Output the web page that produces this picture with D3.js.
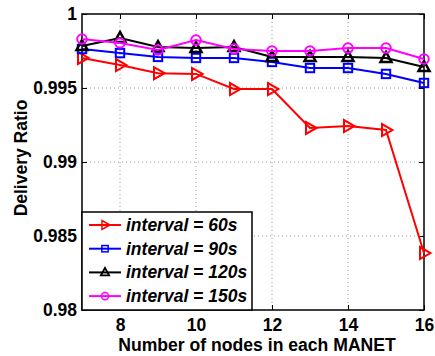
<!DOCTYPE html>
<html>
<head>
<meta charset="utf-8">
<script src="https://cdn.jsdelivr.net/npm/d3@7"></script>
<style>
  body { margin: 0; background: #fff; }
  svg { display: block; font-family: "Liberation Sans", Arial, sans-serif; }
</style>
</head>
<body>
<svg id="chart" width="435" height="356"></svg>
<script>
var nodes = [7, 8, 9, 10, 11, 12, 13, 14, 15, 16];
var int60 = [0.99703, 0.99655, 0.9960, 0.99595, 0.99493, 0.99493, 0.9923, 0.99243, 0.99216, 0.98385];
var int90 = [0.99763, 0.99736, 0.9971, 0.99703, 0.99703, 0.99676, 0.99635, 0.99635, 0.99595, 0.99534];
var int120 = [0.99784, 0.99838, 0.99777, 0.9977, 0.99777, 0.9971, 0.9971, 0.9971, 0.99703, 0.99642];
var int150 = [0.99831, 0.99804, 0.99757, 0.99824, 0.99764, 0.9975, 0.9975, 0.9977, 0.9977, 0.99696];
var xTicks = [8, 10, 12, 14, 16];
var yTicks = [0.98, 0.985, 0.99, 0.995, 1];

var series = [
    {name: 'interval = 60s', values: int60, color: '#ff0000', marker: 'tri-right'},
    {name: 'interval = 90s', values: int90, color: '#0000ff', marker: 'square'},
    {name: 'interval = 120s', values: int120, color: '#000000', marker: 'tri-up'},
    {name: 'interval = 150s', values: int150, color: '#ff00ff', marker: 'circle'}
];

var svg = d3.select('#chart');
var m = {left: 82, top: 14, right: 424, bottom: 310};

var x = d3.scaleLinear().domain([7, 16]).range([m.left, m.right]);
var y = d3.scaleLinear().domain([0.98, 1]).range([m.bottom, m.top]);

// grid
var grid = svg.append('g').attr('stroke', '#999').attr('stroke-width', 1).attr('stroke-dasharray', '1,3');
xTicks.forEach(function(t) {
    if (t === 16) return;
    grid.append('line').attr('x1', x(t)).attr('x2', x(t)).attr('y1', m.top).attr('y2', m.bottom);
});
yTicks.forEach(function(t) {
    if (t === 0.98 || t === 1) return;
    grid.append('line').attr('x1', m.left).attr('x2', m.right).attr('y1', y(t)).attr('y2', y(t));
});

// axes
svg.append('g').attr('transform', 'translate(0,' + m.bottom + ')')
    .call(d3.axisBottom(x).tickValues(xTicks).tickSize(-5).tickPadding(9).tickFormat(d3.format('d')));
svg.append('g').attr('transform', 'translate(' + m.left + ',0)')
    .call(d3.axisLeft(y).tickValues(yTicks).tickSize(-5).tickPadding(5).tickFormat(function(d) { return d === 1 ? '1' : String(+d.toFixed(3)); }));
svg.append('g').attr('transform', 'translate(0,' + m.top + ')')
    .call(d3.axisTop(x).tickValues(xTicks).tickSize(-5).tickFormat(''));
svg.append('g').attr('transform', 'translate(' + m.right + ',0)')
    .call(d3.axisRight(y).tickValues(yTicks).tickSize(-5).tickFormat(''));

svg.selectAll('.domain').remove();
svg.selectAll('.tick line').attr('stroke', '#000');
svg.selectAll('.tick text').attr('font-size', 17.5).attr('font-weight', 'bold').attr('fill', '#000')
    .attr('font-family', '"Liberation Sans", Arial, sans-serif');

svg.append('rect').attr('x', m.left).attr('y', m.top)
    .attr('width', m.right - m.left).attr('height', m.bottom - m.top)
    .attr('fill', 'none').attr('stroke', '#000').attr('stroke-width', 1.5);

// labels
svg.append('text').attr('x', 257).attr('y', 351).attr('text-anchor', 'middle')
    .attr('font-size', 17.6).attr('font-weight', 'bold').text('Number of nodes in each MANET');
svg.append('text').attr('transform', 'translate(27,158) rotate(-90)').attr('text-anchor', 'middle')
    .attr('font-size', 17.5).attr('font-weight', 'bold').text('Delivery Ratio');

function drawMarker(g, type, cx, cy, color) {
    if (type === 'circle') {
        g.append('circle').attr('cx', cx).attr('cy', cy).attr('r', 4.8)
            .attr('fill', 'none').attr('stroke', color).attr('stroke-width', 2);
    } else if (type === 'square') {
        g.append('rect').attr('x', cx - 4.2).attr('y', cy - 4.2).attr('width', 8.4).attr('height', 8.4)
            .attr('fill', 'none').attr('stroke', color).attr('stroke-width', 2);
    } else if (type === 'tri-up') {
        g.append('path').attr('d', 'M' + cx + ',' + (cy - 6) + 'L' + (cx + 5.5) + ',' + (cy + 4) + 'L' + (cx - 5.5) + ',' + (cy + 4) + 'Z')
            .attr('fill', 'none').attr('stroke', color).attr('stroke-width', 2.5);
    } else {
        g.append('path').attr('d', 'M' + (cx + 6.5) + ',' + cy + 'L' + (cx - 4) + ',' + (cy - 6) + 'L' + (cx - 4) + ',' + (cy + 6) + 'Z')
            .attr('fill', 'none').attr('stroke', color).attr('stroke-width', 2);
    }
}

var line = d3.line().x(function(d, i) { return x(nodes[i]); }).y(function(d) { return y(d); });

series.forEach(function(s) {
    var g = svg.append('g');
    g.append('path').datum(s.values).attr('d', line)
        .attr('fill', 'none').attr('stroke', s.color).attr('stroke-width', 2);
    s.values.forEach(function(v, i) {
        drawMarker(g, s.marker, x(nodes[i]), y(v), s.color);
    });
});

// legend
var lg = svg.append('g');
lg.append('rect').attr('x', m.left).attr('y', 212).attr('width', 170).attr('height', m.bottom - 212)
    .attr('fill', '#fff').attr('stroke', '#000').attr('stroke-width', 1.5);
series.forEach(function(s, i) {
    var ly = 225 + i * 23.7;
    lg.append('line').attr('x1', 89).attr('x2', 121).attr('y1', ly).attr('y2', ly)
        .attr('stroke', s.color).attr('stroke-width', 2);
    var mk = lg.append('g').attr('transform', 'translate(105,' + ly + ') scale(0.75) translate(-105,' + (-ly) + ')');
    drawMarker(mk, s.marker, 105, ly, s.color);
    lg.append('text').attr('x', 126).attr('y', ly + 6).attr('font-size', 17.5)
        .attr('font-weight', 'bold').attr('font-style', 'italic').text(s.name);
});
</script>
</body>
</html>
